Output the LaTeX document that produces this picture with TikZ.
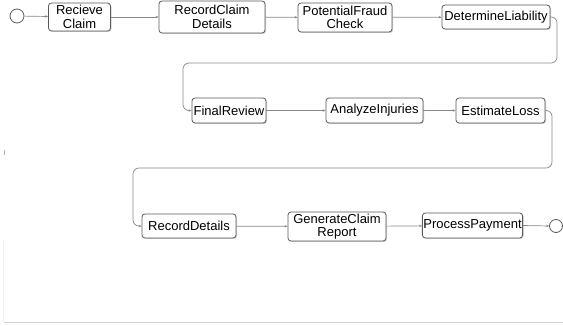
\documentclass[tikz,border=0pt]{standalone}
\usepackage{fontspec}
\setmainfont{Liberation Sans}
\usetikzlibrary{arrows.meta,shadows}
\definecolor{boxline}{HTML}{5A5A5A}
\definecolor{connline}{HTML}{8A8A8A}
\tikzset{
  task/.style={draw=boxline, line width=0.8pt, rounded corners=3pt, fill=white,
    align=center, inner sep=1pt,
    font=\fontsize{13}{13.5}\selectfont,
    drop shadow={opacity=0.35, shadow xshift=1pt, shadow yshift=-1pt}},
  event/.style={draw=boxline, line width=0.8pt, circle, fill=white, inner sep=0pt, minimum size=14pt},
  conn/.style={draw=connline, line width=0.7pt, -{Stealth[length=3pt,width=2.5pt]}},
  flow/.style={conn, rounded corners=6pt}
}
\begin{document}
\begin{tikzpicture}[x=1pt,y=-1pt]
\useasboundingbox[fill=white] (0,0) rectangle (563,326);
% frame remnants
\draw[gray!35, line width=0.8pt] (4,322) -- (563,322);
\draw[gray!12, line width=0.5pt] (3.5,240) -- (3.5,322);
\draw[gray!60, line width=0.8pt] (4,150) -- (4,155);
% row 1
\node[event] (start) at (17,16) {};
\node[task, minimum width=62pt, minimum height=28pt] (rc) at (79.5,17) {Recieve\\Claim};
\node[task, minimum width=106pt, minimum height=32pt] (rcd) at (212,17) {RecordClaim\\Details};
\node[task, minimum width=94pt, minimum height=29pt] (pfc) at (345,17.5) {PotentialFraud\\Check};
\node[task, minimum width=108pt, minimum height=24pt] (dl) at (496,17) {DetermineLiability};
% row 2
\node[task, minimum width=74pt, minimum height=25pt] (fr) at (229,110.5) {FinalReview};
\node[task, minimum width=97pt, minimum height=25pt] (ai) at (374.5,110.5) {AnalyzeInjuries};
\node[task, minimum width=89pt, minimum height=25pt] (el) at (500.5,110.5) {EstimateLoss};
% row 3
\node[task, minimum width=94pt, minimum height=24pt] (rd) at (189,226) {RecordDetails};
\node[task, minimum width=98pt, minimum height=29pt] (gcr) at (337,226.5) {GenerateClaim\\Report};
\node[task, minimum width=99pt, minimum height=25pt] (pp) at (472.5,225.5) {ProcessPayment};
\node[event, minimum size=13pt] (end) at (556,226) {};
% corner coordinates
\coordinate (c1) at (557,63);
\coordinate (c2) at (183,63);
\coordinate (c3) at (552,168);
\coordinate (c4) at (133,168);
% connectors
\draw[conn] (start) -- (rc);
\draw[conn] (rc) -- (rcd);
\draw[conn] (rcd) -- (pfc);
\draw[conn] (pfc) -- (dl);
\draw[flow] (dl.east) -| (c1) -- (c2) |- (fr.west);
\draw[conn] (fr) -- (ai);
\draw[conn] (ai) -- (el);
\draw[flow] (el.east) -| (c3) -- (c4) |- (rd.west);
\draw[conn] (rd) -- (gcr);
\draw[conn] (gcr) -- (pp);
\draw[conn] (pp.east) -- (end.west);
\end{tikzpicture}
\end{document}
